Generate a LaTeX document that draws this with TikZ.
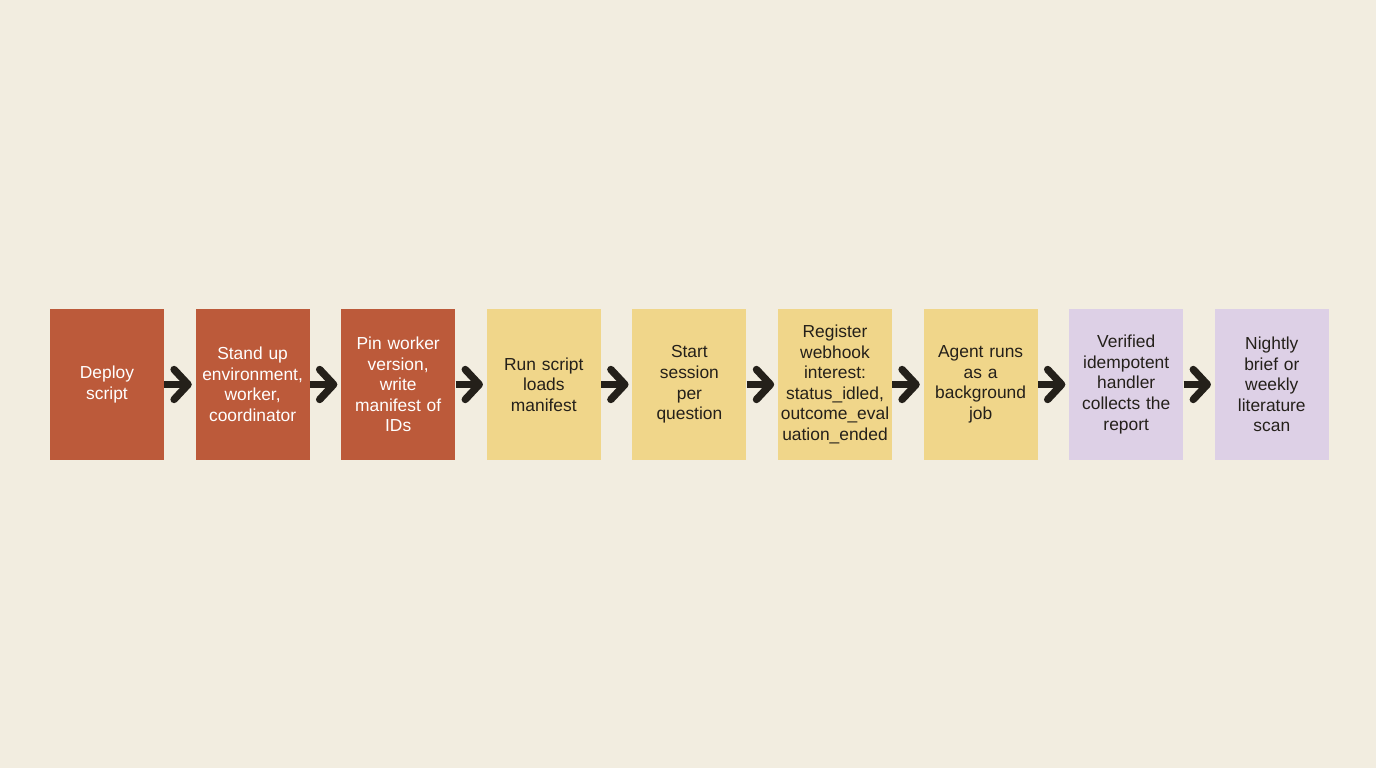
\documentclass[tikz,border=0pt]{standalone}
\usepackage{fontspec}
\setmainfont{Liberation Sans}
\usetikzlibrary{arrows.meta}
\definecolor{paper}{HTML}{F2EDE0}
\definecolor{rust}{HTML}{BC5A3A}
\definecolor{sand}{HTML}{F0D68A}
\definecolor{lilac}{HTML}{DDD0E6}
\definecolor{ink}{HTML}{24201A}
\begin{document}
\begin{tikzpicture}[
  node distance=2.912cm,
  font=\fontsize{9.9}{11.7}\selectfont,
  stage/.style={minimum width=2.28cm, minimum height=3cm, text width=2.28cm, align=center, inner sep=0pt},
  setup/.style={stage, fill=rust, text=white},
  run/.style={stage, fill=sand, text=ink},
  report/.style={stage, fill=lilac, text=ink},
  flow/.style={-{Straight Barb[length=2.8mm, width=6mm, line cap=round, line join=round]}, line width=4.2pt, ink, shorten >=0.7mm}
]
\fill[paper] (-2.14,-7.67) rectangle (25.38,7.69);
\useasboundingbox (-2.14,-7.67) rectangle (25.38,7.69);

% Setup stages
\node[setup] (deploy) {Deploy\\script};
\node[setup, right of=deploy] (standup) {Stand up\\environment,\\worker,\\coordinator};
\node[setup, right of=standup] (pin) {Pin worker\\version,\\write\\manifest of\\IDs};

% Run stages
\node[run, right of=pin] (load) {Run script\\loads\\manifest};
\node[run, right of=load] (session) {Start\\session\\per\\question};
\node[run, right of=session] (webhook) {Register\\webhook\\interest:\\status\_idled,\\outcome\_eval\\uation\_ended};
\node[run, right of=webhook] (agent) {Agent runs\\as a\\background\\job};

% Report stages
\node[report, right of=agent] (handler) {Verified\\idempotent\\handler\\collects the\\report};
\node[report, right of=handler] (brief) {Nightly\\brief or\\weekly\\literature\\scan};

% Arrows between stages
\draw[flow] (deploy.east) -- (standup.west);
\draw[flow] (standup.east) -- (pin.west);
\draw[flow] (pin.east) -- (load.west);
\draw[flow] (load.east) -- (session.west);
\draw[flow] (session.east) -- (webhook.west);
\draw[flow] (webhook.east) -- (agent.west);
\draw[flow] (agent.east) -- (handler.west);
\draw[flow] (handler.east) -- (brief.west);
\end{tikzpicture}
\end{document}
